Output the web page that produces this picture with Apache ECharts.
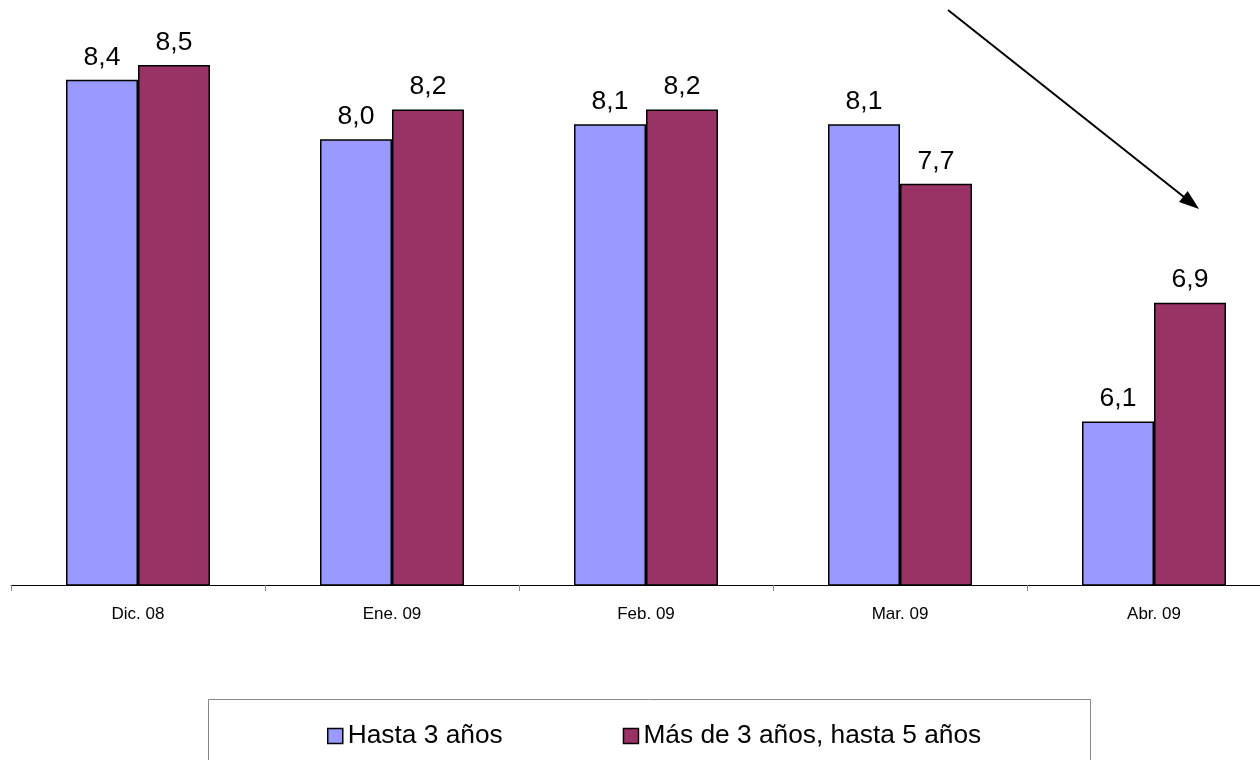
<!DOCTYPE html>
<html>
<head>
<meta charset="utf-8">
<script src="https://cdn.jsdelivr.net/npm/echarts@6/dist/echarts.min.js"></script>
<style>
  html, body { margin: 0; padding: 0; background: #ffffff; }
  #chart { width: 1260px; height: 760px; }
</style>
</head>
<body>
<div id="chart"></div>
<script>
// Months shown on the category axis
const months = ['Dic. 08', 'Ene. 09', 'Feb. 09', 'Mar. 09', 'Abr. 09'];
// Rates by term bucket
const hasta3 = [8.4, 8.0, 8.1, 8.1, 6.1];
const de3a5 = [8.5, 8.2, 8.2, 7.7, 6.9];
const seriesNames = ['Hasta 3 años', 'Más de 3 años, hasta 5 años'];

const fmt = p => p.value.toFixed(1).replace('.', ',');
const FONT = '"Liberation Sans", Arial, sans-serif';

const chart = echarts.init(document.getElementById('chart'), null, { renderer: 'canvas' });

const barLabel = {
  show: true,
  position: 'top',
  distance: 9,
  formatter: fmt,
  fontFamily: FONT,
  fontSize: 26.5,
  color: '#000'
};

chart.setOption({
  animation: false,
  backgroundColor: '#ffffff',
  grid: {
    left: 11,
    right: -21,
    top: -9.4,
    bottom: 175,
    outerBoundsMode: 'none'
  },
  legend: {
    left: 322,
    top: 718,
    itemWidth: 15,
    itemHeight: 15,
    itemGap: 120,
    icon: 'rect',
    textStyle: { fontFamily: FONT, fontSize: 26.3, color: '#000' },
    itemStyle: { borderColor: '#000', borderWidth: 1.5 },
    data: seriesNames
  },
  xAxis: {
    type: 'category',
    data: months,
    axisLine: { lineStyle: { color: '#000', width: 1 } },
    axisTick: { show: true, length: 6, lineStyle: { color: '#888' } },
    axisLabel: { fontFamily: FONT, fontSize: 17, color: '#000', margin: 21 }
  },
  yAxis: {
    type: 'value',
    min: 5,
    max: 9,
    show: false,
    splitLine: { show: false }
  },
  series: [
    {
      name: seriesNames[0],
      type: 'bar',
      data: hasta3,
      barWidth: 72,
      barGap: '0%',
      itemStyle: { color: '#9999FF', borderColor: '#000', borderWidth: 1.5 },
      label: barLabel
    },
    {
      name: seriesNames[1],
      type: 'bar',
      data: de3a5,
      barWidth: 72,
      barGap: '0%',
      itemStyle: { color: '#993366', borderColor: '#000', borderWidth: 1.5 },
      label: barLabel
    }
  ],
  graphic: [
    {
      type: 'rect',
      shape: { x: 208.5, y: 699.5, width: 882, height: 100 },
      style: { fill: 'none', stroke: '#888', lineWidth: 1 },
      z: 0
    },
    {
      type: 'line',
      shape: { x1: 948, y1: 10, x2: 1184, y2: 197 },
      style: { stroke: '#000', lineWidth: 2 }
    },
    {
      type: 'polygon',
      shape: { points: [[1199, 209], [1179, 202.1], [1187.7, 191.1]] },
      style: { fill: '#000' }
    }
  ]
});
</script>
</body>
</html>
